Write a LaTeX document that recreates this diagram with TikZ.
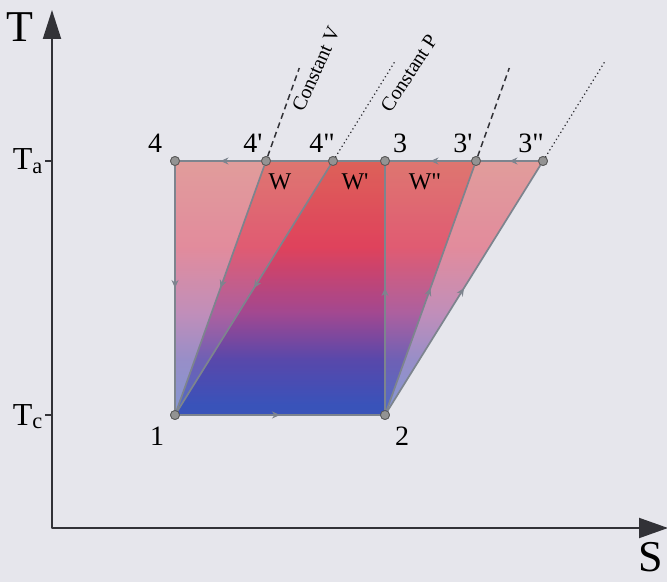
\documentclass[tikz,border=0pt]{standalone}
\usepackage{fontspec}
\setmainfont{Liberation Serif}
\usetikzlibrary{arrows.meta,decorations.markings}
\definecolor{pagebg}{RGB}{230,230,236}
\definecolor{linegray}{RGB}{125,132,142}
\definecolor{axisgray}{RGB}{50,50,55}
\definecolor{hotred}{RGB}{220,75,65}
\definecolor{midred}{RGB}{222,38,68}
\definecolor{midpurple}{RGB}{150,45,130}
\definecolor{deepindigo}{RGB}{65,45,160}
\definecolor{coldblue}{RGB}{28,58,178}
\pgfdeclareverticalshading{heatshade}{100bp}{color(0bp)=(coldblue); color(27bp)=(coldblue); color(36bp)=(deepindigo); color(45bp)=(midpurple); color(58bp)=(midred); color(75bp)=(hotred); color(100bp)=(hotred)}

\begin{document}
\begin{tikzpicture}[
		x=1pt,
		y=1pt,
		line join=round,
		axisline/.style={draw=axisgray,line width=2pt},
		cycleline/.style={draw=linegray,line width=1.7pt},
		flowmark/.style={cycleline,postaction={decorate},
			decoration={markings,mark=at position 0.5 with {\arrow{Stealth[length=8pt,width=7pt]}}}},
		heatfill/.style={shading=heatshade,fill opacity=0.47},
		ptdot/.style={circle,inner sep=0pt,minimum size=9pt,fill=gray!85,draw=black!65,line width=0.8pt},
		isochore/.style={draw=axisgray,line width=1.5pt,dash pattern=on 6pt off 4pt},
		isobar/.style={draw=axisgray,line width=1.7pt,line cap=round,dash pattern=on 0.1pt off 4pt},
		ptlabel/.style={font=\fontsize{28}{32}\selectfont,inner sep=0pt},
		worklabel/.style={font=\fontsize{24}{28}\selectfont,inner sep=0pt},
		curvelabel/.style={font=\fontsize{20}{24}\selectfont,inner sep=0pt},
		axislabel/.style={font=\fontsize{44}{50}\selectfont,inner sep=0pt},
		levellabel/.style={font=\fontsize{32}{36}\selectfont,inner sep=0pt,anchor=base east}
	]
	
	% Page
	\fill[pagebg] (0,0) rectangle (667,582);
	\useasboundingbox (0,0) rectangle (667,582);
	
	% State points
	\node[ptdot] (p1)  at (175,167) {};
	\node[ptdot] (p2)  at (385,167) {};
	\node[ptdot] (p3)  at (385,421) {};
	\node[ptdot] (p3a) at (476,421) {};
	\node[ptdot] (p3b) at (543,421) {};
	\node[ptdot] (p4)  at (175,421) {};
	\node[ptdot] (p4a) at (266,421) {};
	\node[ptdot] (p4b) at (333,421) {};
	
	% Three cycles, overlapping
	\shade[heatfill] (p1.center) -- (p2.center) -- (p3.center) -- (p4.center) -- cycle;
	\shade[heatfill] (p1.center) -- (p2.center) -- (p3a.center) -- (p4a.center) -- cycle;
	\shade[heatfill] (p1.center) -- (p2.center) -- (p3b.center) -- (p4b.center) -- cycle;
	
	% Axes
	\coordinate (origin) at (52,54);
	\coordinate (ttip) at (52,572);
	\coordinate (stip) at (668,54);
	\draw[axisline,{Triangle[length=29pt,width=18pt]}-{Triangle[length=29pt,width=20pt]}] (ttip) -- (origin) -- (stip);
	\draw[axisline] (45,421) -- (52,421);
	\draw[axisline] (45,167) -- (52,167);
	\node[axislabel] (tlab) at (20,555) {T};
	\node[axislabel] (slab) at (651,25) {S};
	\node[levellabel] (talab) at (43,412) {T\textsubscript{a}};
	\node[levellabel] (tclab) at (43,157) {T\textsubscript{c}};
	
	% Constant V and constant P lines, extended
	\coordinate (vend1) at (299.3,514);
	\coordinate (vend2) at (509.3,514);
	\coordinate (pend1) at (394.6,520);
	\coordinate (pend2) at (604.6,520);
	\draw[isochore] (p4a) -- (vend1);
	\draw[isochore] (p3a) -- (vend2);
	\draw[isobar] (p4b) -- (pend1);
	\draw[isobar] (p3b) -- (pend2);
	\node[curvelabel,rotate=66] (cvlab) at (316,513) {Constant V};
	\node[curvelabel,rotate=57] (cplab) at (409,509) {Constant P};
	
	% Cycle paths
	\draw[flowmark] (p1) -- (p2);
	\draw[flowmark] (p2) -- (p3);
	\draw[flowmark] (p2) -- (p3a);
	\draw[flowmark] (p2) -- (p3b);
	\draw[flowmark] (p3b) -- (p3a);
	\draw[flowmark] (p3a) -- (p3);
	\draw[cycleline] (p3) -- (p4b);
	\draw[cycleline] (p4b) -- (p4a);
	\draw[flowmark] (p4a) -- (p4);
	\draw[flowmark] (p4) -- (p1);
	\draw[flowmark] (p4a) -- (p1);
	\draw[flowmark] (p4b) -- (p1);
	
	% Redraw points on top
	\foreach \p in {p1,p2,p3,p3a,p3b,p4,p4a,p4b}
	\node[ptdot] at (\p) {};
	
	% Point labels
	\node[ptlabel,anchor=base] (l4)  at (155,429) {4};
	\node[ptlabel,anchor=base] (l4a) at (253,429) {4\textquotesingle};
	\node[ptlabel,anchor=base] (l4b) at (322,429) {4\textquotedbl};
	\node[ptlabel,anchor=base] (l3)  at (400,429) {3};
	\node[ptlabel,anchor=base] (l3a) at (463,429) {3\textquotesingle};
	\node[ptlabel,anchor=base] (l3b) at (531,429) {3\textquotedbl};
	\node[ptlabel,anchor=base] (l1)  at (157,137) {1};
	\node[ptlabel,anchor=base] (l2)  at (402,137) {2};
	
	% Work areas
	\node[worklabel] (w1) at (280,400) {W};
	\node[worklabel] (w2) at (355,400) {W\textquotesingle};
	\node[worklabel] (w3) at (425,400) {W\textquotedbl};
	
\end{tikzpicture}
\end{document}
